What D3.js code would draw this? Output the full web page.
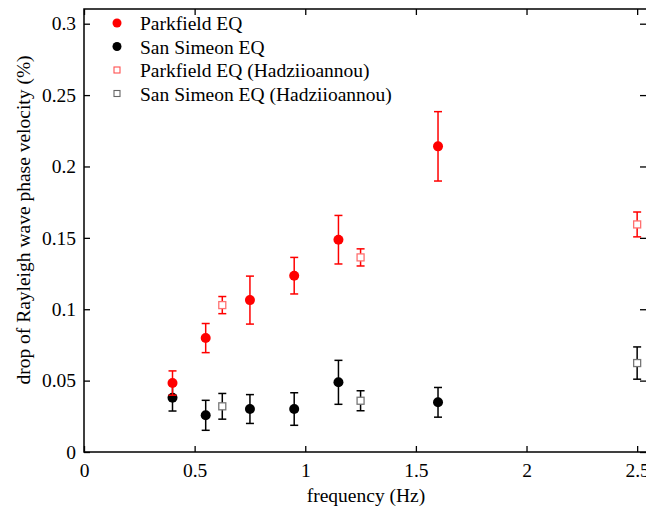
<!DOCTYPE html>
<html>
<head>
<meta charset="utf-8">
<script src="https://cdn.jsdelivr.net/npm/d3@7"></script>
<style>
  body { margin: 0; background: #fff; }
</style>
</head>
<body>
<div id="chart"></div>
<script>
// frequency (Hz), drop (%), error (%)
const parkfieldFreq = [0.4, 0.55, 0.75, 0.95, 1.15, 1.6]
const parkfieldDrop = [0.0483, 0.0798, 0.1064, 0.1235, 0.1487, 0.2141]
const parkfieldErr = [0.0085, 0.0102, 0.0168, 0.0128, 0.017, 0.0243]

const simeonFreq = [0.4, 0.55, 0.75, 0.95, 1.15, 1.6]
const simeonDrop = [0.038, 0.0257, 0.0301, 0.0301, 0.0488, 0.0348]
const simeonErr = [0.0093, 0.0105, 0.0101, 0.0114, 0.0154, 0.0104]

const parkfieldHadFreq = [0.625, 1.25, 2.5]
const parkfieldHadDrop = [0.1029, 0.1363, 0.1594]
const parkfieldHadErr = [0.006, 0.006, 0.0087]

const simeonHadFreq = [0.625, 1.25, 2.5]
const simeonHadDrop = [0.032, 0.0359, 0.0623]
const simeonHadErr = [0.009, 0.007, 0.0113]

const xTicks = [0, 0.5, 1, 1.5, 2, 2.5]
const yTicks = [0, 0.05, 0.1, 0.15, 0.2, 0.25, 0.3]

const legendLabels = ["Parkfield EQ", "San Simeon EQ", "Parkfield EQ (Hadziioannou)", "San Simeon EQ (Hadziioannou)"]

const width = 646
const height = 510
const margin = { top: 9, right: 0, bottom: 58, left: 84 }
const serif = "'Liberation Serif', 'Times New Roman', Times, 'DejaVu Serif', serif"
const fontSize = 19.5

const svg = d3.select("#chart").append("svg").attr("width", width).attr("height", height)

const x = d3.scaleLinear().domain([0, 2.54]).range([margin.left, width - margin.right])
const y = d3.scaleLinear().domain([0, 0.3103]).range([height - margin.bottom, margin.top])

// frame
svg.append("rect")
  .attr("x", margin.left).attr("y", margin.top)
  .attr("width", width - margin.right - margin.left + 2)
  .attr("height", height - margin.bottom - margin.top)
  .attr("fill", "none").attr("stroke", "#000").attr("stroke-width", 1.5)

const fmt = d => d3.format("")(+d.toFixed(2))

// axes, ticks pointing inward
svg.append("g")
  .attr("transform", `translate(0,${height - margin.bottom})`)
  .call(d3.axisBottom(x).tickValues(xTicks).tickSize(-6).tickPadding(11).tickFormat(fmt))
svg.append("g")
  .attr("transform", `translate(0,${margin.top})`)
  .call(d3.axisTop(x).tickValues(xTicks).tickSize(-6).tickFormat(""))
svg.append("g")
  .attr("transform", `translate(${margin.left},0)`)
  .call(d3.axisLeft(y).tickValues(yTicks).tickSize(-6).tickPadding(8).tickFormat(fmt))
svg.append("g")
  .attr("transform", `translate(${width - margin.right},0)`)
  .call(d3.axisRight(y).tickValues(yTicks).tickSize(-6).tickFormat(""))

svg.selectAll(".domain").remove()
svg.selectAll("g").attr("font-family", serif)
svg.selectAll(".tick line").attr("stroke-width", 1.3)
svg.selectAll(".tick text").attr("font-size", fontSize).attr("fill", "#000")

// axis titles
svg.append("text")
  .attr("x", 366).attr("y", 502)
  .attr("text-anchor", "middle").attr("font-size", fontSize).attr("font-family", serif)
  .text("frequency (Hz)")
svg.append("text")
  .attr("transform", "translate(30,220) rotate(-90)")
  .attr("text-anchor", "middle").attr("font-size", fontSize).attr("font-family", serif)
  .text("drop of Rayleigh wave phase velocity (%)")

function errorBars(freq, drop, err, color) {
  const g = svg.append("g").attr("stroke", color).attr("stroke-width", 1.5)
  freq.forEach((f, i) => {
    const cx = x(f)
    const y1 = y(drop[i] + err[i])
    const y2 = y(drop[i] - err[i])
    g.append("line").attr("x1", cx).attr("x2", cx).attr("y1", y1).attr("y2", y2)
    g.append("line").attr("x1", cx - 4).attr("x2", cx + 4).attr("y1", y1).attr("y2", y1)
    g.append("line").attr("x1", cx - 4).attr("x2", cx + 4).attr("y1", y2).attr("y2", y2)
  })
}

function circles(freq, drop, color) {
  svg.append("g").selectAll("circle")
    .data(freq)
    .enter()
    .append("circle")
    .attr("cx", d => x(d))
    .attr("cy", (_, i) => y(drop[i]))
    .attr("r", 5)
    .attr("fill", color)
}

function squares(freq, drop, color) {
  svg.append("g").selectAll("rect")
    .data(freq)
    .enter()
    .append("rect")
    .attr("x", d => x(d) - 3.5)
    .attr("y", (_, i) => y(drop[i]) - 3.5)
    .attr("width", 7).attr("height", 7)
    .attr("fill", "#fff")
    .attr("stroke", color).attr("stroke-width", 1.3)
}

errorBars(simeonHadFreq, simeonHadDrop, simeonHadErr, "#000")
squares(simeonHadFreq, simeonHadDrop, "#777")
errorBars(simeonFreq, simeonDrop, simeonErr, "#000")
circles(simeonFreq, simeonDrop, "#000")
errorBars(parkfieldHadFreq, parkfieldHadDrop, parkfieldHadErr, "#f00")
squares(parkfieldHadFreq, parkfieldHadDrop, "#ff7070")
errorBars(parkfieldFreq, parkfieldDrop, parkfieldErr, "#f00")
circles(parkfieldFreq, parkfieldDrop, "#f00")

// legend
const legend = svg.append("g").attr("font-family", serif)
legendLabels.forEach((label, i) => {
  const ly = 30 + i * 23.5
  if (i < 2) {
    legend.append("circle").attr("cx", 117).attr("cy", ly - 7).attr("r", 4.5)
      .attr("fill", i === 0 ? "#f00" : "#000")
  } else {
    legend.append("rect").attr("x", 114).attr("y", ly - 10).attr("width", 6).attr("height", 6)
      .attr("fill", "#fff").attr("stroke", i === 2 ? "#ff5050" : "#666").attr("stroke-width", 1.1)
  }
  legend.append("text").attr("x", 140).attr("y", ly).attr("font-size", fontSize).text(label)
})
</script>
</body>
</html>
